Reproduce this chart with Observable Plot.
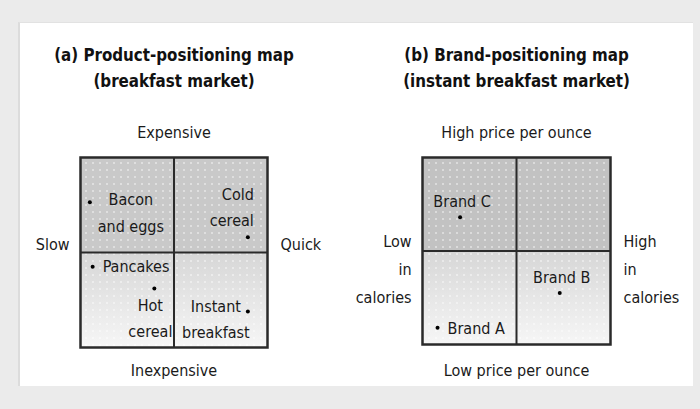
<!DOCTYPE html>
<html>
<head>
<meta charset="utf-8">
<script src="https://cdn.jsdelivr.net/npm/d3@7"></script>
<script src="https://cdn.jsdelivr.net/npm/@observablehq/plot@0.6"></script>
<style>
  html, body { margin: 0; padding: 0; }
  body { width: 700px; height: 409px; background: #ebebeb; position: relative; overflow: hidden;
         font-family: "DejaVu Sans Condensed", "DejaVu Sans", sans-serif; font-stretch: condensed; }
  #card { position: absolute; left: 18px; top: 22px; width: 673px; height: 363px; background: #fff;
          border-left: 2px solid #dcdcdc; border-top: 1px solid #e2e2e2; }
  .panel { position: absolute; top: 0; width: 350px; height: 409px; }
  #left { left: 0; }
  #right { left: 350px; }
</style>
</head>
<body>
<div id="card"></div>
<div id="left" class="panel"></div>
<div id="right" class="panel"></div>
<script>
// ---- Data ----
const productTitle = "(a) Product-positioning map\n(breakfast market)";
const productNames = ["Bacon\nand eggs", "Cold\ncereal", "Pancakes", "Hot\ncereal", "Instant\nbreakfast"];
const productSpeed = [-9.0, 7.9, -8.7, -2.1, 7.9];   // slow (-) .. quick (+)
const productPrice = [5.3, 1.6, -1.5, -3.8, -6.2];   // inexpensive (-) .. expensive (+)
const productAxis = { top: "Expensive", bottom: "Inexpensive", left: "Slow", right: "Quick" };

const brandTitle = "(b) Brand-positioning map\n(instant breakfast market)";
const brandNames = ["Brand C", "Brand B", "Brand A"];
const brandCalories = [-6.0, 4.6, -8.4];  // low (-) .. high (+)
const brandPrice = [3.6, -4.5, -8.2];     // low (-) .. high (+) price per ounce
const brandAxis = { top: "High price per ounce", bottom: "Low price per ounce", left: "Low\nin\ncalories", right: "High\nin\ncalories" };

const quadrants = [
  { x1: -10, x2: 0, y1: 0, y2: 10, band: "top" },
  { x1: 0, x2: 10, y1: 0, y2: 10, band: "top" },
  { x1: -10, x2: 0, y1: -10, y2: 0, band: "bottom" },
  { x1: 0, x2: 10, y1: -10, y2: 0, band: "bottom" }
];

// label layout (style, not data)
const productLabelLayout = [
  { dx: 41, dy: 8, anchor: "middle" },
  { dx: 6, dy: -33, anchor: "end" },
  { dx: 10, dy: -3, anchor: "start" },
  { dx: -4, dy: 27, anchor: "middle" },
  { dx: -32, dy: 5, anchor: "middle" }
];
const brandLabelLayout = [
  { dx: 2, dy: -19, anchor: "middle" },
  { dx: 2, dy: -19, anchor: "middle" },
  { dx: 10, dy: -2, anchor: "start" }
];

const FONT = '"DejaVu Sans Condensed", "DejaVu Sans", sans-serif';
const FS = 16;

function defsMark(id) {
  return () => {
    const defs = d3.create("svg:defs");
    const g = defs.append("linearGradient").attr("id", id + "-grad").attr("x1", 0).attr("y1", 0).attr("x2", 0).attr("y2", 1);
    g.append("stop").attr("offset", "0%").attr("stop-color", "#d6d6d6");
    g.append("stop").attr("offset", "100%").attr("stop-color", "#f6f6f6");
    const p = defs.append("pattern").attr("id", id + "-dots").attr("patternUnits", "userSpaceOnUse").attr("width", 7).attr("height", 7);
    p.append("circle").attr("cx", 2).attr("cy", 2).attr("r", 1).attr("fill", "#fff").attr("fill-opacity", 0.55);
    const wrap = d3.create("svg:g");
    wrap.node().appendChild(defs.node());
    return wrap.node();
  };
}

function panel(opts) {
  const { id, title, names, xs, ys, axis, layout, margins, topColor, sideDy } = opts;
  const points = names.map((n, i) => ({ name: n, x: xs[i], y: ys[i], ...layout[i] }));
  const labels = points.map(p => Plot.text([p], {
    x: "x", y: "y", text: "name", textAnchor: p.anchor, dx: p.dx, dy: p.dy,
    lineHeight: 1.65, fontSize: FS, fill: "#1a1a1a"
  }));
  return Plot.plot({
    width: 350, height: 409,
    ...margins,
    x: { domain: [-10, 10], axis: null },
    y: { domain: [-10, 10], axis: null },
    style: { background: "transparent", fontFamily: FONT, fontStretch: "condensed" },
    marks: [
      defsMark(id),
      Plot.rect(quadrants, { x1: "x1", x2: "x2", y1: "y1", y2: "y2",
        fill: d => d.band === "top" ? topColor : `url(#${id}-grad)` }),
      Plot.rect(quadrants, { x1: "x1", x2: "x2", y1: "y1", y2: "y2", fill: `url(#${id}-dots)` }),
      Plot.ruleX([0], { stroke: "#2a2a2a", strokeWidth: 2 }),
      Plot.ruleY([0], { stroke: "#2a2a2a", strokeWidth: 2 }),
      Plot.frame({ stroke: "#2a2a2a", strokeWidth: 2.5 }),
      Plot.dot(points, { x: "x", y: "y", r: 2, fill: "#000" }),
      ...labels,
      Plot.text([title], { frameAnchor: "top", lineAnchor: "middle", dy: -92, lineHeight: 1.55, fontSize: 16.8, fontWeight: "bold", fill: "#111" }),
      Plot.text([axis.top], { frameAnchor: "top", lineAnchor: "middle", dy: -25, fontSize: FS, fill: "#1a1a1a" }),
      Plot.text([axis.bottom], { frameAnchor: "bottom", lineAnchor: "middle", dy: opts.bottomDy, fontSize: FS, fill: "#1a1a1a" }),
      Plot.text([axis.left], { frameAnchor: "left", textAnchor: "end", dx: -11, dy: sideDy, lineHeight: 1.75, fontSize: FS, fill: "#1a1a1a" }),
      Plot.text([axis.right], { frameAnchor: "right", textAnchor: "start", dx: 13, dy: sideDy, lineHeight: 1.75, fontSize: FS, fill: "#1a1a1a" })
    ]
  });
}

document.getElementById("left").appendChild(panel({
  id: "pp", title: productTitle, names: productNames, xs: productSpeed, ys: productPrice,
  axis: productAxis, layout: productLabelLayout, topColor: "#c9c9c9", sideDy: -11, bottomDy: 23,
  margins: { marginLeft: 80, marginRight: 83, marginTop: 157, marginBottom: 62 }
}));
document.getElementById("right").appendChild(panel({
  id: "bp", title: brandTitle, names: brandNames, xs: brandCalories, ys: brandPrice,
  axis: brandAxis, layout: brandLabelLayout, topColor: "#c2c2c2", sideDy: 15, bottomDy: 26,
  margins: { marginLeft: 72, marginRight: 90, marginTop: 157, marginBottom: 65 }
}));
</script>
</body>
</html>
